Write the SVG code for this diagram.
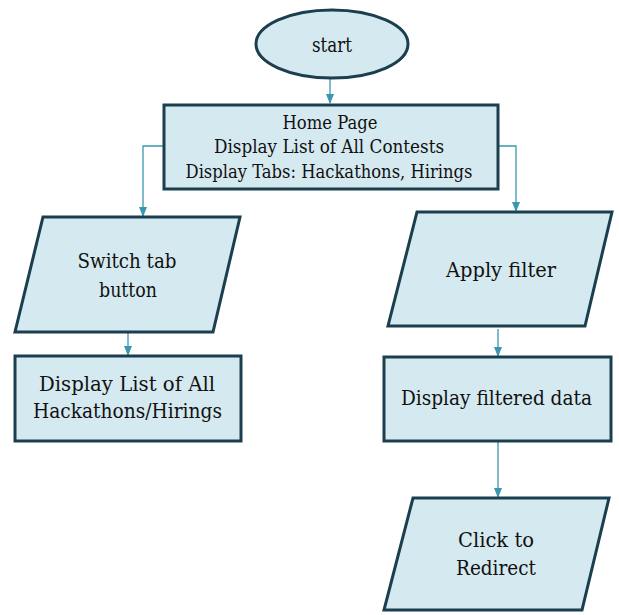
<svg xmlns="http://www.w3.org/2000/svg" width="619" height="615" viewBox="0 0 619 615">
<style>
.shape{fill:#D5E9F0;stroke:#1B3F4E;stroke-width:3}
text{font-family:'DejaVu Serif','Liberation Serif',serif;fill:#111;text-anchor:middle}
.big{font-size:21px}
.med{font-size:18px}
.conn{fill:none;stroke:#3A97B0;stroke-width:1.3}
</style>
<defs>
<marker id="ah" markerWidth="10" markerHeight="8" refX="9" refY="4" orient="auto" markerUnits="userSpaceOnUse">
<path d="M0,0 L10,4 L0,8 Z" fill="#3A97B0"/>
</marker>
</defs>
<rect width="619" height="615" fill="#fff"/>
<g id="connectors">
<path class="conn" d="M330,78 V103" marker-end="url(#ah)"/>
<path class="conn" d="M163,146 H143 V216" marker-end="url(#ah)"/>
<path class="conn" d="M498,146 H516 V211" marker-end="url(#ah)"/>
<path class="conn" d="M128,332 V355" marker-end="url(#ah)"/>
<path class="conn" d="M498,329 V356" marker-end="url(#ah)"/>
<path class="conn" d="M498,441 V497" marker-end="url(#ah)"/>
</g>
<g id="start">
<ellipse class="shape" cx="332" cy="44" rx="76" ry="34"/>
<text class="big" x="332" y="52" textLength="40" lengthAdjust="spacingAndGlyphs">start</text>
</g>
<g id="home">
<rect class="shape" x="164" y="105" width="334" height="84"/>
<text class="med" x="330" y="129" textLength="95" lengthAdjust="spacingAndGlyphs">Home Page</text>
<text class="med" x="329" y="153" textLength="230" lengthAdjust="spacingAndGlyphs">Display List of All Contests</text>
<text class="med" x="329" y="178" textLength="287" lengthAdjust="spacingAndGlyphs">Display Tabs: Hackathons, Hirings</text>
</g>
<g id="switch">
<polygon class="shape" points="43,217 240,217 213,332 15,332"/>
<text class="big" x="127" y="268" textLength="99" lengthAdjust="spacingAndGlyphs">Switch tab</text>
<text class="big" x="128" y="297" textLength="58" lengthAdjust="spacingAndGlyphs">button</text>
</g>
<g id="displayall">
<rect class="shape" x="15" y="356" width="226" height="85"/>
<text class="big" x="127" y="391" textLength="176" lengthAdjust="spacingAndGlyphs">Display List of All</text>
<text class="big" x="127.5" y="418" textLength="189" lengthAdjust="spacingAndGlyphs">Hackathons/Hirings</text>
</g>
<g id="filter">
<polygon class="shape" points="417,212 612,212 585,326 388,326"/>
<text class="big" x="501" y="277" textLength="110" lengthAdjust="spacingAndGlyphs">Apply filter</text>
</g>
<g id="filtered">
<rect class="shape" x="384" y="357" width="227" height="84"/>
<text class="big" x="496.5" y="405" textLength="191" lengthAdjust="spacingAndGlyphs">Display filtered data</text>
</g>
<g id="redirect">
<polygon class="shape" points="413,498 609,498 582,610 384,610"/>
<text class="big" x="496" y="547" textLength="76" lengthAdjust="spacingAndGlyphs">Click to</text>
<text class="big" x="496" y="575" textLength="80" lengthAdjust="spacingAndGlyphs">Redirect</text>
</g>
</svg>
